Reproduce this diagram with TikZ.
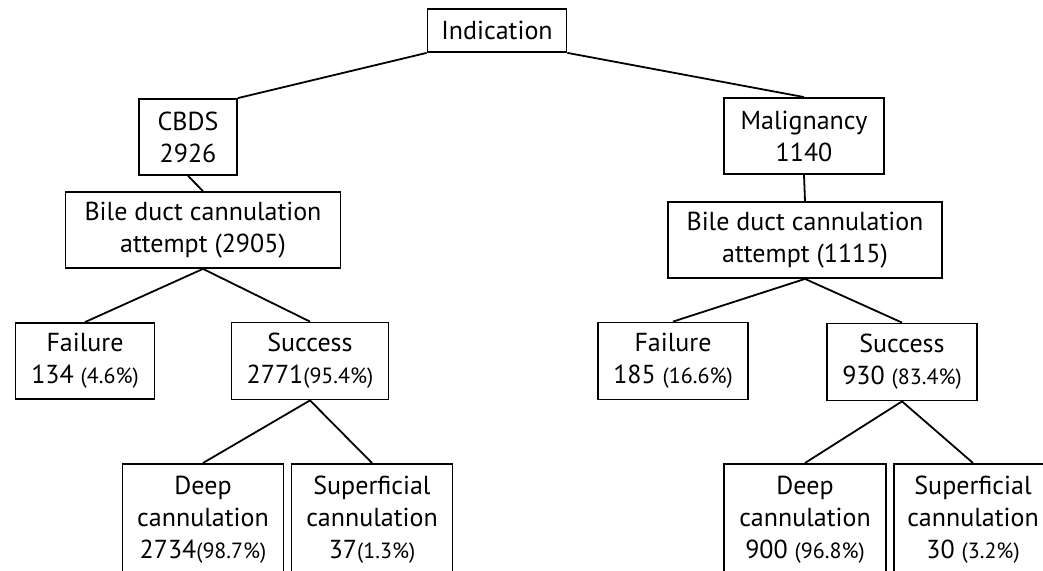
\documentclass[tikz,border=0pt]{standalone}
\usepackage{fontspec}
\setmainfont{PT Sans}
\newcommand{\pct}[1]{{\fontsize{11}{13}\selectfont(#1)}}
\tikzset{
  box/.style={draw, line width=0.9pt, align=center, inner sep=0pt,
    font=\fontsize{13}{16}\selectfont},
  openbox/.style={box, anchor=north, inner ysep=6pt, text depth=45pt}
}
\begin{document}
\begin{tikzpicture}[x=0.5pt, y=-0.5pt, line width=0.9pt]
      \useasboundingbox (0,0) rectangle (1043,571);
      \clip (0,0) rectangle (1043,571);
      \draw
        (497,30.5) node[box, minimum width=69.5pt, minimum height=21.5pt] (ind){Indication}
        (188,137) node[box, minimum width=49pt, minimum height=38pt] (cbds){CBDS\\2926}
        (203,230) node[box, minimum width=137.5pt, minimum height=38pt] (bilel){Bile duct cannulation\\attempt (2905)}
        (804,136) node[box, minimum width=80pt, minimum height=38pt] (mal){Malignancy\\1140}
        (805,240) node[box, minimum width=137pt, minimum height=38pt] (biler){Bile duct cannulation\\attempt (1115)}
        (85,361) node[box, minimum width=69.5pt, minimum height=38pt] (faill){Failure\\134 \pct{4.6\%}}
        (310,361) node[box, minimum width=78.5pt, minimum height=38.5pt] (succl){Success\\2771\pct{95.4\%}}
        (673,361) node[box, minimum width=75pt, minimum height=38.5pt] (failr){Failure\\185 \pct{16.6\%}}
        (902,362) node[box, minimum width=75pt, minimum height=38.5pt] (succr){Success\\930 \pct{83.4\%}}
        (203,463) node[openbox, minimum width=80.5pt] (deepl){Deep\\cannulation\\2734\pct{98.7\%}}
        (372,463) node[openbox, minimum width=80.5pt] (supl){Superficial\\cannulation\\37\pct{1.3\%}}
        (805,463) node[openbox, minimum width=81pt] (deepr){Deep\\cannulation\\900 \pct{96.8\%}}
        (973,463) node[openbox, minimum width=79pt] (supr){Superficial\\cannulation\\30 \pct{3.2\%}};
      \begin{scope}[-]
        \draw (ind.south west) to (cbds.north east);
        \draw (ind.south east) to (mal.north);
        \draw (cbds.south) to (bilel.north);
        \draw (mal.south) to (biler.north);
        \draw (bilel.south) to (faill.north);
        \draw (bilel.south) to (succl.north);
        \draw (biler.south) to (failr.north);
        \draw (biler.south) to (succr.north);
        \draw (succl.south) to (deepl.north);
        \draw (succl.south) to (supl.north);
        \draw (succr.south) to (deepr.north);
        \draw (succr.south) to (supr.north);
      \end{scope}
    \end{tikzpicture}
\end{document}
